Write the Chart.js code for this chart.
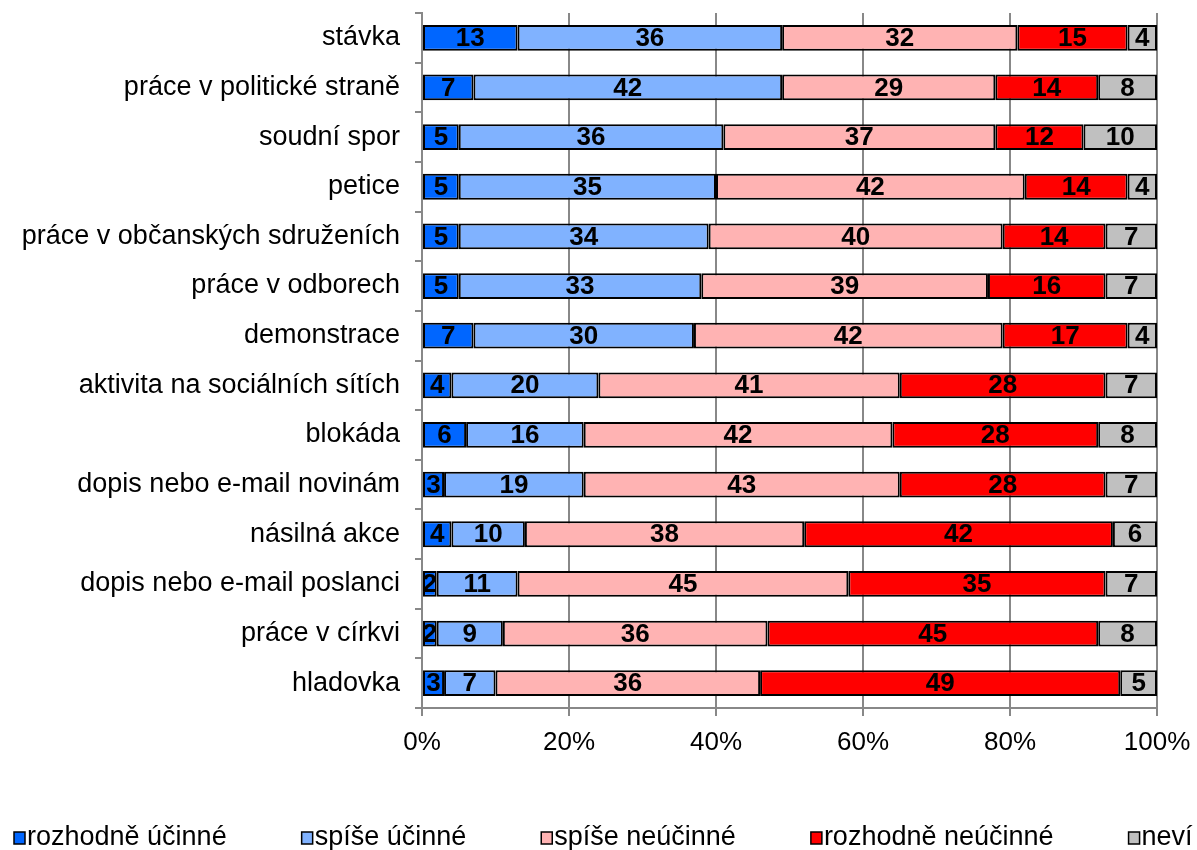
<!DOCTYPE html>
<html><head><meta charset="utf-8">
<script src="https://cdn.jsdelivr.net/npm/chart.js@4/dist/chart.umd.min.js"></script>
<style>html,body{margin:0;padding:0;background:#fff;overflow:hidden}#wrap{width:1197px;height:850px;position:relative}</style>
</head><body><div id="wrap"><canvas id="c"></canvas></div>
<script>
const categories = ["stávka","práce v politické straně","soudní spor","petice","práce v občanských sdruženích","práce v odborech","demonstrace","aktivita na sociálních sítích","blokáda","dopis nebo e-mail novinám","násilná akce","dopis nebo e-mail poslanci","práce v církvi","hladovka"];
const seriesNames = ["rozhodně účinné","spíše účinné","spíše neúčinné","rozhodně neúčinné","neví"];
const rozhodneUcinne   = [13, 7, 5, 5, 5, 5, 7, 4, 6, 3, 4, 2, 2, 3];
const spiseUcinne      = [36,42,36,35,34,33,30,20,16,19,10,11, 9, 7];
const spiseNeucinne    = [32,29,37,42,40,39,42,41,42,43,38,45,36,36];
const rozhodneNeucinne = [15,14,12,14,14,16,17,28,28,28,42,35,45,49];
const nevi             = [ 4, 8,10, 4, 7, 7, 4, 7, 8, 7, 6, 7, 8, 5];
const xTicks = [0,20,40,60,80,100];
const colors = ["#0066FF","#80B2FF","#FFB3B3","#FF0000","#C0C0C0"];

const FONT = "Liberation Sans, Arial, sans-serif";
const seriesData = [rozhodneUcinne, spiseUcinne, spiseNeucinne, rozhodneNeucinne, nevi];

const valueLabels = {
  id: 'valueLabels',
  afterDatasetsDraw(chart) {
    const ctx = chart.ctx;
    ctx.save();
    ctx.font = "bold 26px " + FONT;
    ctx.fillStyle = "#000";
    ctx.textAlign = "center";
    ctx.textBaseline = "middle";
    chart.data.datasets.forEach((ds, i) => {
      const meta = chart.getDatasetMeta(i);
      meta.data.forEach((bar, j) => {
        const p = bar.getProps(['x','base','y'], true);
        ctx.fillText(String(ds.data[j]), (p.x + p.base) / 2, p.y + 1);
      });
    });
    ctx.restore();
  }
};

const customLegend = {
  id: 'customLegend',
  afterDraw(chart) {
    const ctx = chart.ctx;
    ctx.save();
    ctx.font = "27px " + FONT;
    ctx.textBaseline = "middle";
    ctx.textAlign = "left";
    let x = 14;
    const yc = 838;
    chart.data.datasets.forEach(ds => {
      ctx.fillStyle = ds.backgroundColor;
      ctx.fillRect(x, yc - 6, 11, 12);
      ctx.strokeStyle = "#000";
      ctx.lineWidth = 1.5;
      ctx.strokeRect(x, yc - 6, 11, 12);
      ctx.fillStyle = "#000";
      ctx.fillText(ds.label, x + 13, yc);
      x += 13 + ctx.measureText(ds.label).width + 75;
    });
    ctx.restore();
  }
};

new Chart(document.getElementById('c'), {
  type: 'bar',
  data: {
    labels: categories,
    datasets: seriesNames.map((n, i) => ({
      label: n,
      data: seriesData[i],
      backgroundColor: colors[i],
      borderColor: "#000",
      borderWidth: 2,
      borderSkipped: false,
      categoryPercentage: 1,
      barPercentage: 0.52
    }))
  },
  options: {
    indexAxis: 'y',
    responsive: true,
    maintainAspectRatio: false,
    animation: false,
    layout: { padding: { top: 13, right: 40, bottom: 0, left: 0 } },
    plugins: { legend: { display: false }, tooltip: { enabled: false } },
    scales: {
      x: {
        stacked: true, min: 0, max: 100,
        afterBuildTicks(s) { s.ticks = xTicks.map(v => ({ value: v })); },
        ticks: { callback: v => v + '%', font: { family: FONT, size: 26 }, color: '#000', padding: 11, maxRotation: 0 },
        grid: { color: '#888', lineWidth: 2, tickLength: 8, drawTicks: true },
        border: { color: '#888', width: 2 },
        afterFit(s) { s.height = 142; s.paddingLeft = 0; s.paddingRight = 0; }
      },
      y: {
        stacked: true,
        ticks: { font: { family: FONT, size: 27 }, color: '#000', padding: 15, autoSkip: false },
        grid: { drawOnChartArea: false, drawTicks: true, tickLength: 7, color: '#888', lineWidth: 2, offset: true },
        border: { color: '#888', width: 2 },
        afterFit(s) { s.width = 422; s.paddingTop = 0; s.paddingBottom = 0; }
      }
    }
  },
  plugins: [valueLabels, customLegend]
});
</script></body></html>
